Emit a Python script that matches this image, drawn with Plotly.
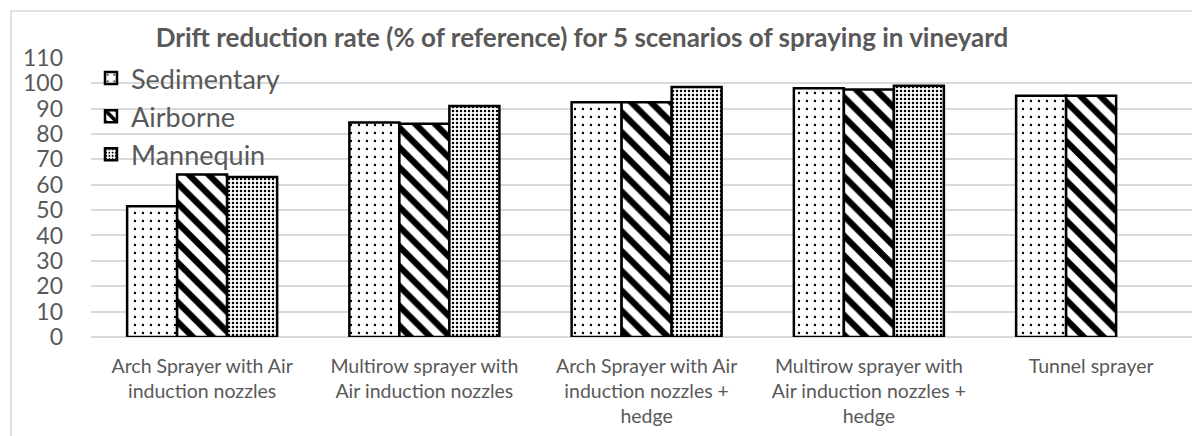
import plotly.graph_objects as go

# Spraying scenarios (x categories)
scenarios = [
    "Arch Sprayer with Air<br>induction nozzles",
    "Multirow sprayer with<br>Air induction nozzles",
    "Arch Sprayer with Air<br>induction nozzles +<br>hedge",
    "Multirow sprayer with<br>Air induction nozzles +<br>hedge",
    "Tunnel sprayer",
]

# Drift reduction rate (% of reference) per measurement type
sedimentary = [51.5, 84.5, 92.5, 98.0, 95.0]
airborne = [64.0, 84.0, 92.5, 97.5, 95.0]
mannequin = [63.0, 91.0, 98.5, 99.0, None]

y_ticks = list(range(0, 111, 10))

TEXT_GREY = "#595959"
GRID_GREY = "#d9d9d9"
FONT = "Lato"

W, H = 1192, 436
M_L, M_R, M_T, M_B = 91, 0, 57, 99
plot_w = W - M_L - M_R
plot_h = H - M_T - M_B

series = [
    ("Sedimentary", sedimentary, dict(shape=".", size=8, solidity=0.07)),
    ("Airborne", airborne, dict(shape="\\", size=14, solidity=0.45)),
    ("Mannequin", mannequin, dict(shape=".", size=4, solidity=0.3)),
]

fig = go.Figure()
for name, vals, pat in series:
    fig.add_trace(go.Bar(
        name=name,
        x=list(range(len(scenarios))),
        y=vals,
        legendgroup=name,
        marker=dict(
            color="white",
            line=dict(color="black", width=2.5),
            pattern=dict(fgcolor="black", bgcolor="white", fillmode="replace", **pat),
        ),
    ))

# category band width in px, used to keep the same spacing when plot runs off the right edge
band_px = 222.25
x_max = -0.5 + plot_w / band_px


def px_to_paper_x(px):
    return (px - M_L) / plot_w


def px_to_paper_y(py):
    return (M_T + plot_h - py) / plot_h


# outer chart frame (light grey), opens to the right and bottom
fig.add_shape(
    type="rect", xref="paper", yref="paper",
    x0=px_to_paper_x(11), x1=px_to_paper_x(1250),
    y0=px_to_paper_y(500), y1=px_to_paper_y(11),
    line=dict(color=GRID_GREY, width=1.5), fillcolor="rgba(0,0,0,0)", layer="below",
)

# surrounding document text fragments
fig.add_annotation(text="were", xref="paper", yref="paper",
                   x=px_to_paper_x(0), y=px_to_paper_y(5), xanchor="left", yanchor="bottom",
                   showarrow=False, font=dict(family="Liberation Serif", size=22, color="black"))
fig.add_annotation(text="se", xref="paper", yref="paper",
                   x=px_to_paper_x(1194), y=px_to_paper_y(5), xanchor="right", yanchor="bottom",
                   showarrow=False, font=dict(family="Liberation Serif", size=22, color="black"))

fig.update_layout(
    width=W, height=H,
    margin=dict(l=M_L, r=M_R, t=M_T, b=M_B, pad=0),
    paper_bgcolor="white", plot_bgcolor="white",
    barmode="group", bargap=0.325, bargroupgap=0,
    font=dict(family=FONT, color=TEXT_GREY),
    title=dict(
        text="<b>Drift reduction rate (% of reference) for 5 scenarios of spraying in vineyard</b>",
        x=px_to_paper_x(582), xref="paper", xanchor="center",
        y=1 - 38 / H, yref="container", yanchor="middle",
        font=dict(family=FONT, size=26, color=TEXT_GREY),
    ),
    legend=dict(
        x=px_to_paper_x(91), y=px_to_paper_y(54), xanchor="left", yanchor="top",
        bgcolor="rgba(0,0,0,0)", font=dict(family=FONT, size=27, color=TEXT_GREY),
        tracegroupgap=0, traceorder="grouped",
    ),
    showlegend=True,
)

fig.update_xaxes(
    type="linear", range=[-0.5, x_max],
    tickmode="array", tickvals=list(range(len(scenarios))), ticktext=scenarios,
    tickfont=dict(family=FONT, size=19.5, color=TEXT_GREY),
    showgrid=False, zeroline=False, showline=False, ticks="",
    ticklabelstandoff=15,
)
fig.update_yaxes(
    range=[0, 110.3], tickmode="array", tickvals=y_ticks,
    tickfont=dict(family=FONT, size=23, color=TEXT_GREY),
    showgrid=True, gridcolor=GRID_GREY, gridwidth=1.5,
    zeroline=True, zerolinecolor=GRID_GREY, zerolinewidth=1.5,
    showline=False, ticks="", ticklabelstandoff=27,
)

fig.write_html("out.html")
